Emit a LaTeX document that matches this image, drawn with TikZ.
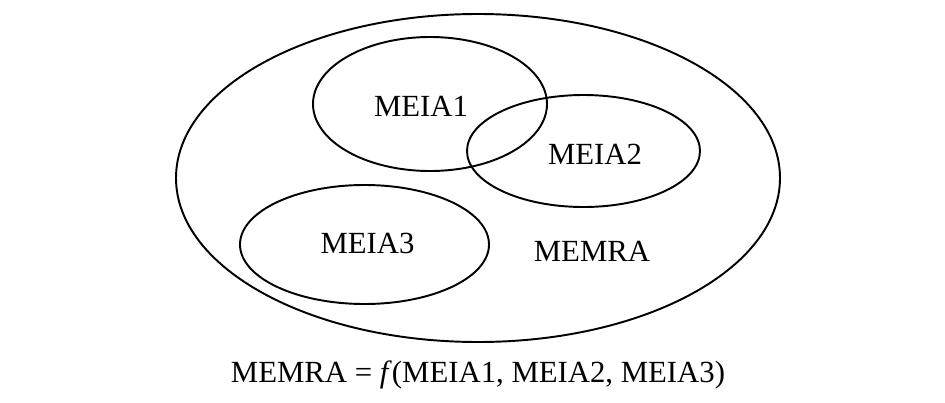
\documentclass[tikz,border=0pt]{standalone}
\usepackage{fontspec}
\setmainfont{Liberation Serif}
\usepackage{tikz}
\usetikzlibrary{positioning}
\tikzset{set/.style={line width=1.1pt}}
\tikzset{setlabel/.style={anchor=base,inner sep=0pt,font=\fontsize{17.5}{21}\selectfont}}

\begin{document}
\begin{tikzpicture}
\useasboundingbox (0,0) rectangle (18.9,8.04);
\draw[set] (9.56,4.48) ellipse (6.04 and 3.28);
\draw[set] (8.6,5.96) ellipse (2.34 and 1.34);
\draw[set] (11.67,5.02) ellipse (2.33 and 1.12);
\draw[set] (7.29,3.15) ellipse (2.49 and 1.19);
\node[setlabel] (meia1) at (8.42,5.72) {MEIA1};
\node[setlabel] (meia2) at (11.9,4.76) {MEIA2};
\node[setlabel] (meia3) at (7.35,2.98) {MEIA3};
\node[setlabel] (memra) at (11.84,2.82) {MEMRA};
%\node[below=0.1cm] at (9.56,0.4) {};
\node[setlabel] (formula) at (9.56,0.4) {MEMRA = \textit{f}(MEIA1, MEIA2, MEIA3)};
\end{tikzpicture}
\end{document}
